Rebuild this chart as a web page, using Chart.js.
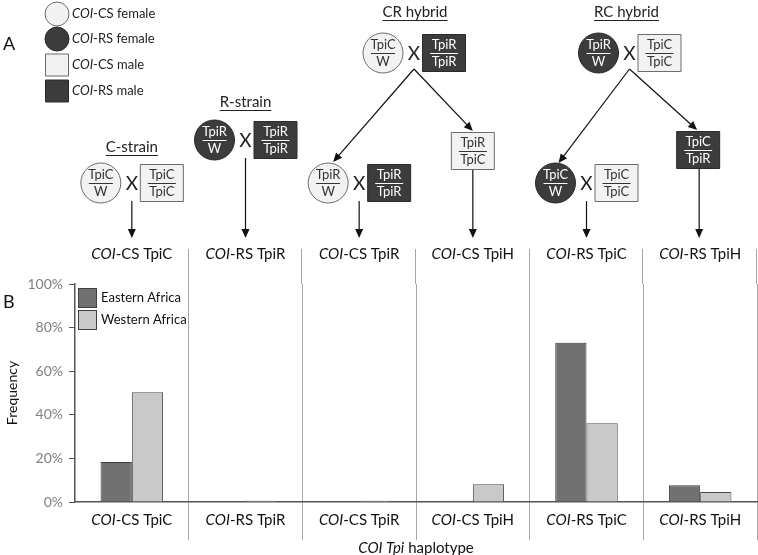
<!DOCTYPE html>
<html>
<head>
<meta charset="utf-8">
<script src="https://cdn.jsdelivr.net/npm/chart.js@4.4.1/dist/chart.umd.min.js"></script>
<style>
  html, body { margin: 0; padding: 0; background: #fff; }
  #wrap { width: 758px; height: 555px; position: relative; }
</style>
</head>
<body>
<div id="wrap"><canvas id="chart"></canvas></div>
<script>
// haplotype categories (first three letters "COI" are set in italics)
const categories = ['COI-CS TpiC', 'COI-RS TpiR', 'COI-CS TpiR', 'COI-CS TpiH', 'COI-RS TpiC', 'COI-RS TpiH'];
const seriesNames = ['Eastern Africa', 'Western Africa'];
const eastern = [18.3, 0, 0, 0.6, 73, 7.7];
const western = [50.4, 0.6, 0.6, 8.1, 36.1, 4.6];
const yMax = 100;
const yStep = 20;

const FONT = 'Lato, "Open Sans", sans-serif';
const LIGHT = '#f2f2f2', DARK = '#3c3c3c';

// text with italic runs: parts = [[text, italic], ...]
function rich(ctx, parts, x, y, size, align) {
    let w = 0;
    parts.forEach(p => { ctx.font = (p[1] ? 'italic ' : '') + size + 'px ' + FONT; w += ctx.measureText(p[0]).width; });
    let cx = align === 'left' ? x : x - w / 2;
    ctx.textAlign = 'left';
    ctx.textBaseline = 'middle';
    parts.forEach(p => {
        ctx.font = (p[1] ? 'italic ' : '') + size + 'px ' + FONT;
        ctx.fillText(p[0], cx, y);
        cx += ctx.measureText(p[0]).width;
    });
}
function catParts(s) { return [[s.slice(0, 3), true], [s.slice(3), false]]; }

function symbol(ctx, female, dark, cx, cy, top, bottom) {
    ctx.save();
    ctx.beginPath();
    if (female) ctx.arc(cx, cy, 20, 0, Math.PI * 2);
    else ctx.rect(cx - 21.5, cy - 18.5, 43, 37);
    ctx.fillStyle = dark ? DARK : LIGHT;
    ctx.fill();
    ctx.lineWidth = 1;
    ctx.strokeStyle = dark ? '#2a2a2a' : '#6b6b6b';
    ctx.stroke();
    const col = dark ? '#ffffff' : '#333333';
    ctx.fillStyle = col;
    ctx.font = '13px ' + FONT;
    ctx.textAlign = 'center';
    ctx.textBaseline = 'middle';
    ctx.fillText(top, cx, cy - 8);
    ctx.fillText(bottom, cx, cy + 9);
    const hw = female ? 12 : 14;
    ctx.beginPath();
    ctx.moveTo(cx - hw, cy + 0.5);
    ctx.lineTo(cx + hw, cy + 0.5);
    ctx.strokeStyle = col;
    ctx.stroke();
    ctx.restore();
}

function arrow(ctx, x1, y1, x2, y2) {
    const a = Math.atan2(y2 - y1, x2 - x1);
    ctx.save();
    ctx.strokeStyle = '#111';
    ctx.fillStyle = '#111';
    ctx.lineWidth = 1.2;
    ctx.beginPath();
    ctx.moveTo(x1, y1);
    ctx.lineTo(x2 - 6 * Math.cos(a), y2 - 6 * Math.sin(a));
    ctx.stroke();
    ctx.beginPath();
    ctx.moveTo(x2, y2);
    ctx.lineTo(x2 - 9 * Math.cos(a) + 4 * Math.sin(a), y2 - 9 * Math.sin(a) - 4 * Math.cos(a));
    ctx.lineTo(x2 - 9 * Math.cos(a) - 4 * Math.sin(a), y2 - 9 * Math.sin(a) + 4 * Math.cos(a));
    ctx.closePath();
    ctx.fill();
    ctx.restore();
}

function cross(ctx, X, Y, fDark, fTop, mDark, mTop, mBottom) {
    symbol(ctx, true, fDark, X - 31, Y, fTop, 'W');
    symbol(ctx, false, mDark, X + 30, Y, mTop, mBottom);
    ctx.fillStyle = '#222';
    ctx.font = '19px ' + FONT;
    ctx.textAlign = 'center';
    ctx.textBaseline = 'middle';
    ctx.fillText('X', X, Y + 1);
}

function title(ctx, text, x, y) {
    ctx.fillStyle = '#222';
    ctx.font = '15px ' + FONT;
    ctx.textAlign = 'center';
    ctx.textBaseline = 'middle';
    ctx.fillText(text, x, y);
    const w = ctx.measureText(text).width;
    ctx.beginPath();
    ctx.moveTo(x - w / 2, y + 8.5);
    ctx.lineTo(x + w / 2, y + 8.5);
    ctx.strokeStyle = '#222';
    ctx.lineWidth = 1;
    ctx.stroke();
}

const diagram = {
    id: 'diagram',
    afterDraw(chart) {
        const ctx = chart.ctx;
        const xs = chart.scales.x;
        const area = chart.chartArea;
        const c = categories.map((_, i) => xs.getPixelForValue(i));
        const cw = (area.right - area.left) / categories.length;
        ctx.save();

        // panel letters
        ctx.fillStyle = '#111';
        ctx.font = '18px ' + FONT;
        ctx.textAlign = 'left';
        ctx.textBaseline = 'middle';
        ctx.fillText('A', 3, 44);
        ctx.fillText('B', 3, 302);

        // key of panel A
        const key = [[true, false, 'CS female'], [true, true, 'RS female'], [false, false, 'CS male'], [false, true, 'RS male']];
        const keyY = [14, 39, 65, 91];
        key.forEach((k, i) => {
            ctx.beginPath();
            if (k[0]) ctx.arc(57, keyY[i], 12, 0, Math.PI * 2);
            else ctx.rect(45.5, keyY[i] - 11, 23, 22);
            ctx.fillStyle = k[1] ? DARK : LIGHT;
            ctx.fill();
            ctx.strokeStyle = k[1] ? '#2a2a2a' : '#6b6b6b';
            ctx.lineWidth = 1;
            ctx.stroke();
            ctx.fillStyle = '#222';
            rich(ctx, [['COI', true], ['-' + k[2], false]], 72, keyY[i], 13, 'left');
        });

        // crosses
        title(ctx, 'C-strain', c[0], 147);
        cross(ctx, c[0], 183, false, 'TpiC', false, 'TpiC', 'TpiC');
        arrow(ctx, c[0], 201, c[0], 238);

        title(ctx, 'R-strain', c[1], 102);
        cross(ctx, c[1], 140, true, 'TpiR', true, 'TpiR', 'TpiR');
        arrow(ctx, c[1], 158, c[1], 238);

        const crX = (c[2] + c[3]) / 2 - 2;
        title(ctx, 'CR hybrid', crX + 1, 12);
        cross(ctx, crX, 53, false, 'TpiC', true, 'TpiR', 'TpiR');
        arrow(ctx, crX, 69, c[2] - 26, 162);
        arrow(ctx, crX, 69, c[3], 131);
        symbol(ctx, false, false, c[3], 151, 'TpiR', 'TpiC');
        arrow(ctx, c[3], 170, c[3], 238);

        cross(ctx, c[2], 183, false, 'TpiR', true, 'TpiR', 'TpiR');
        arrow(ctx, c[2], 201, c[2], 238);

        const rcX = c[4] + 43;
        title(ctx, 'RC hybrid', rcX - 3, 12);
        cross(ctx, rcX, 53, true, 'TpiR', false, 'TpiC', 'TpiC');
        arrow(ctx, rcX, 69, c[4] - 28, 163);
        arrow(ctx, rcX, 69, c[5] - 3, 130);
        symbol(ctx, false, true, c[5] - 2, 150, 'TpiC', 'TpiR');
        arrow(ctx, c[5] - 1, 169, c[5] - 1, 238);

        cross(ctx, c[4], 183, true, 'TpiC', false, 'TpiC', 'TpiC');
        arrow(ctx, c[4], 201, c[4], 238);

        // divider tops above the plot
        ctx.strokeStyle = '#a6a6a6';
        ctx.lineWidth = 1;
        for (let i = 1; i <= categories.length; i++) {
            const x = Math.round(area.left + i * cw) - 0.5;
            ctx.beginPath();
            ctx.moveTo(x, 249);
            ctx.lineTo(x, area.top);
            ctx.stroke();
        }

        // category labels, top and bottom
        ctx.fillStyle = '#111';
        categories.forEach((s, i) => {
            rich(ctx, catParts(s), c[i], 254, 15, 'center');
            rich(ctx, catParts(s), c[i], 520, 15, 'center');
        });
        rich(ctx, [['COI Tpi', true], [' haplotype', false]], (area.left + area.right) / 2, 548, 15, 'center');

        // legend of panel B
        chart.data.datasets.forEach((ds, i) => {
            const y = 288 + i * 22;
            ctx.fillStyle = ds.backgroundColor;
            ctx.fillRect(78, y, 18, 19);
            ctx.strokeStyle = '#404040';
            ctx.strokeRect(78.5, y + 0.5, 18, 19);
            ctx.fillStyle = '#111';
            ctx.font = '13px ' + FONT;
            ctx.textAlign = 'left';
            ctx.textBaseline = 'middle';
            ctx.fillText(ds.label, 101, y + 10);
        });
        ctx.restore();
    }
};

new Chart(document.getElementById('chart'), {
    type: 'bar',
    data: {
        labels: categories,
        datasets: [
            { label: seriesNames[0], data: eastern, backgroundColor: '#717171', borderColor: '#3a3a3a', borderWidth: 1 },
            { label: seriesNames[1], data: western, backgroundColor: '#c9c9c9', borderColor: '#4a4a4a', borderWidth: 1 }
        ]
    },
    options: {
        responsive: true,
        maintainAspectRatio: false,
        animation: false,
        layout: { padding: { top: 284, left: 0, right: 1, bottom: 0 } },
        datasets: { bar: { categoryPercentage: 0.55, barPercentage: 1 } },
        plugins: { legend: { display: false }, tooltip: { enabled: false } },
        scales: {
            x: {
                afterFit: s => { s.height = 53; },
                ticks: { display: false },
                grid: {
                    offset: true,
                    drawOnChartArea: true,
                    tickLength: 38,
                    color: ctx => ctx.index === 0 ? 'rgba(0,0,0,0)' : '#a6a6a6'
                },
                border: { display: true, color: '#555555', width: 1.5 }
            },
            y: {
                min: 0,
                max: yMax,
                afterFit: s => { s.width = 75; },
                ticks: { stepSize: yStep, callback: v => v + '%', color: '#7f7f7f', padding: 6, font: { family: FONT, size: 14 } },
                grid: { drawOnChartArea: false, tickLength: 6, color: '#555555' },
                border: { display: true, color: '#555555', width: 1.5 },
                title: { display: true, text: 'Frequency', color: '#111', font: { family: FONT, size: 14 }, padding: { top: 4, bottom: 0 } }
            }
        }
    },
    plugins: [diagram]
});
</script>
</body>
</html>
